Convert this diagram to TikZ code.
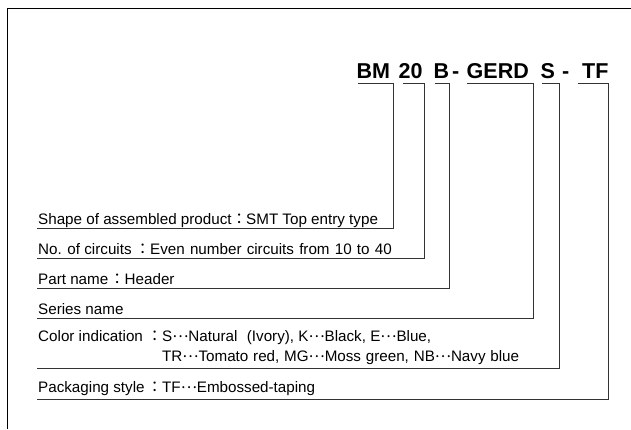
\documentclass[tikz,border=0pt]{standalone}
\usepackage{fontspec}
\setmainfont{Liberation Sans}
\newfontfamily\cjkf{Noto Sans CJK JP}
\newcommand{\hd}[2]{\makebox[#1pt][l]{#2\hfill{\cjkf ：}}}
\newcommand{\dd}{\raisebox{0.27em}{\cjkf …}}
\begin{document}
\begin{tikzpicture}[x=1pt,y=-1pt,
  framepath/.style={draw=black,line width=1.1pt},
  conn/.style={draw=black!80,line width=1pt},
  code/.style={font=\fontsize{21.5}{22}\selectfont\bfseries,anchor=base west,inner sep=0pt},
  lab/.style={font=\fontsize{15.2}{16}\selectfont,anchor=base west,inner sep=0pt}]
\useasboundingbox (0,0) rectangle (631,429);
\fill[white] (0,0) rectangle (631,429);
\draw[framepath] (7.5,429) -- (7.5,8.5) -- (631,8.5);
\node[code] (bm) at (356.5,78.3) {BM};
\node[code] (n20) at (398.5,78.3) {20};
\node[code] (b) at (433.5,78.3) {B};
\node[code] (d1) at (452,78.3) {-};
\node[code] (gerd) at (466.5,78.3) {GERD};
\node[code] (s) at (540.5,78.3) {S};
\node[code] (d2) at (562,78.3) {-};
\node[code] (tf) at (582,78.3) {TF};
\node[lab] (l1) at (38,224) {\hd{208}{Shape of assembled product}SMT Top entry type};
\node[lab] (l2) at (38,254) {\hd{112}{No. of circuits}\spaceskip=5.2pt Even number circuits from 10 to 40};
\node[lab] (l3) at (38,284) {\hd{86.5}{Part name}Header};
\node[lab] (l4) at (38,314) {Series name};
\node[lab] (l5) at (38,341.7) {\hd{124}{Color indication}S\dd Natural\hspace{9.5pt}(Ivory), K\dd Black, E\dd Blue,};
\node[lab] (l5b) at (162,361.7) {\spaceskip=4.8pt TR\dd Tomato red, MG\dd Moss green, NB\dd Navy blue};
\node[lab] (l6) at (38,392.3) {\hd{124}{Packaging style}TF\dd Embossed-taping};
\foreach \n/\xa/\xb/\yy in {a/357.5/393.5/228.7,c/402.5/424/258.7,e/434.5/449.5/288.7,g/467/533.5/318.5,i/542/559.5/368.7,k/577.5/608/399}{
  \coordinate (\n1) at (\xa,83);
  \coordinate (\n2) at (\xb,83);
  \coordinate (\n3) at (\xb,\yy);
  \coordinate (\n4) at (36.5,\yy);
  \draw[conn] (\n1) -- (\n2) -- (\n3) -- (\n4);
}
\end{tikzpicture}
\end{document}
